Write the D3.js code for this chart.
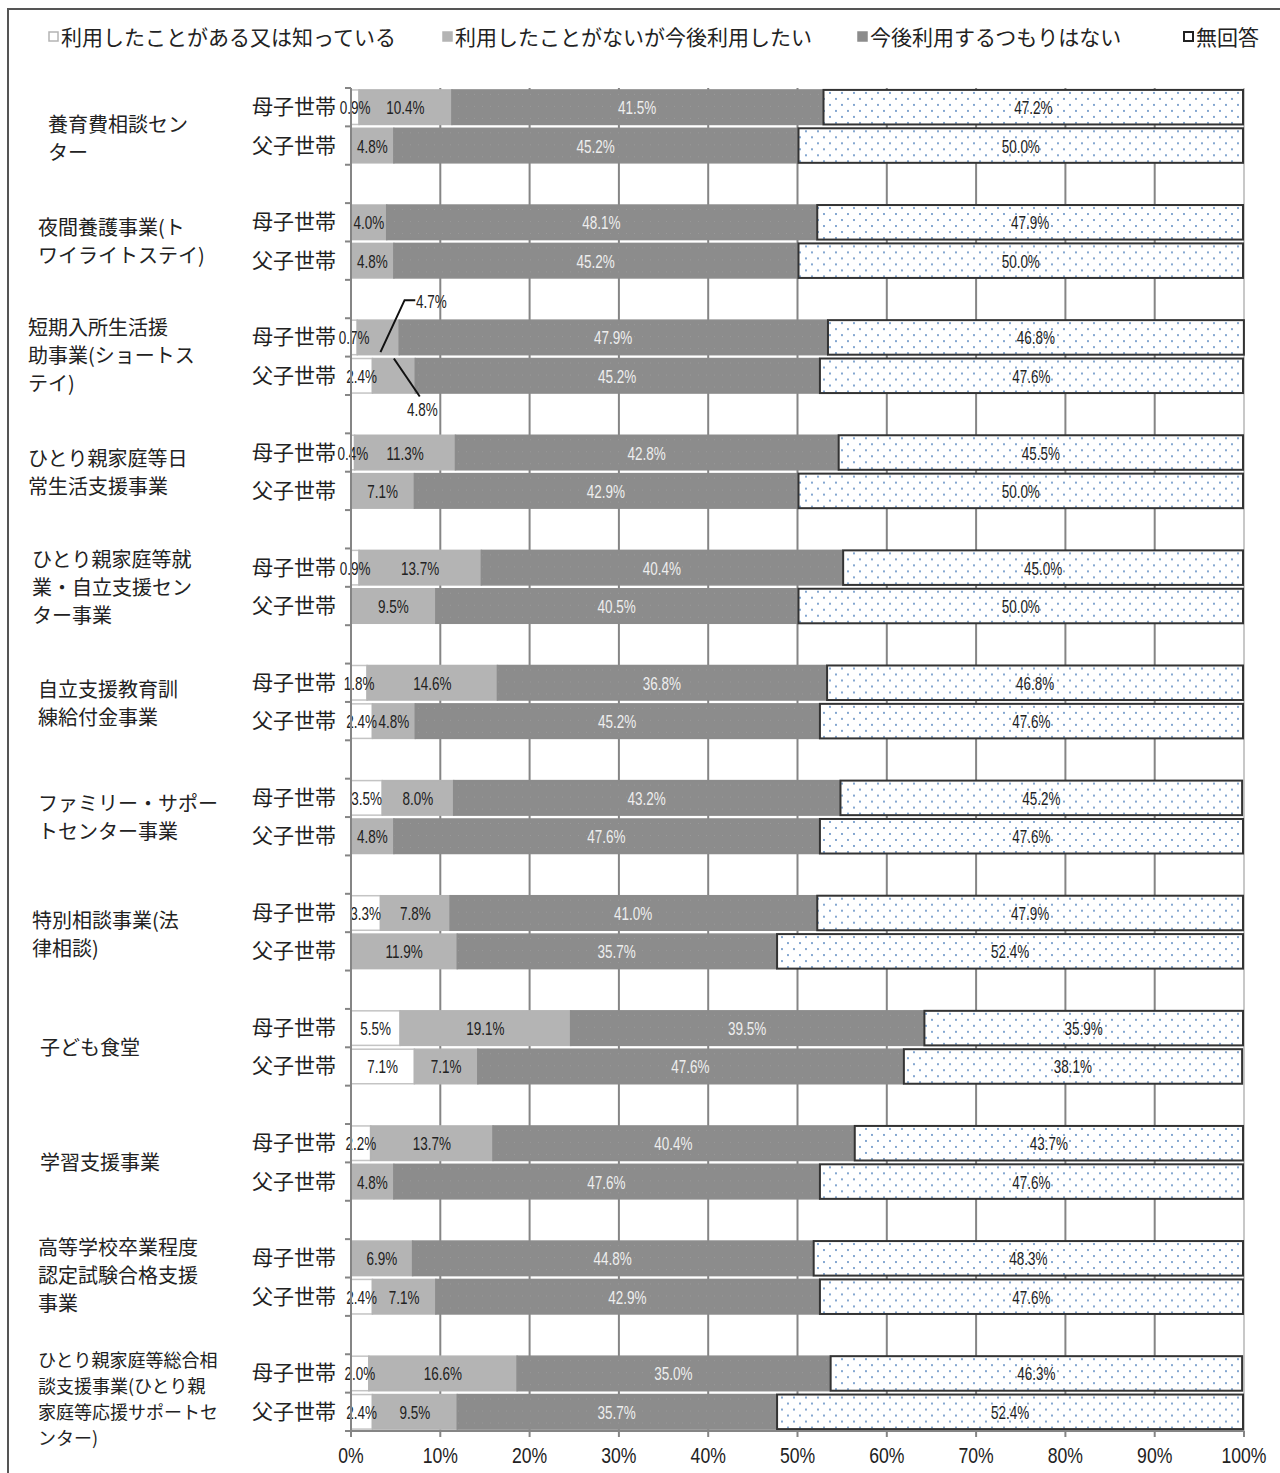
<!DOCTYPE html>
<html>
<head>
<meta charset="utf-8">
<script src="https://cdn.jsdelivr.net/npm/d3@7"></script>
<style>
  body { margin: 0; background: #fff; }
  text { font-family: "Noto Sans CJK JP", sans-serif; }
  .num { font-family: "Liberation Sans", sans-serif; }
</style>
</head>
<body>
<svg id="chart" width="1280" height="1473"></svg>
<script>
const categories = [
    ["養育費相談セン", "ター"],
    ["夜間養護事業(ト", "ワイライトステイ)"],
    ["短期入所生活援", "助事業(ショートス", "テイ)"],
    ["ひとり親家庭等日", "常生活支援事業"],
    ["ひとり親家庭等就", "業・自立支援セン", "ター事業"],
    ["自立支援教育訓", "練給付金事業"],
    ["ファミリー・サポー", "トセンター事業"],
    ["特別相談事業(法", "律相談)"],
    ["子ども食堂"],
    ["学習支援事業"],
    ["高等学校卒業程度", "認定試験合格支援", "事業"],
    ["ひとり親家庭等総合相", "談支援事業(ひとり親", "家庭等応援サポートセ", "ンター)"]
]
const households = ["母子世帯", "父子世帯"]
const seriesNames = ["利用したことがある又は知っている", "利用したことがないが今後利用したい", "今後利用するつもりはない", "無回答"]

// [known, want, notPlanned, noAnswer] per category
const motherValues = [
    [0.9, 10.4, 41.5, 47.2],
    [0, 4.0, 48.1, 47.9],
    [0.7, 4.7, 47.9, 46.8],
    [0.4, 11.3, 42.8, 45.5],
    [0.9, 13.7, 40.4, 45.0],
    [1.8, 14.6, 36.8, 46.8],
    [3.5, 8.0, 43.2, 45.2],
    [3.3, 7.8, 41.0, 47.9],
    [5.5, 19.1, 39.5, 35.9],
    [2.2, 13.7, 40.4, 43.7],
    [0, 6.9, 44.8, 48.3],
    [2.0, 16.6, 35.0, 46.3]
]
const fatherValues = [
    [0, 4.8, 45.2, 50.0],
    [0, 4.8, 45.2, 50.0],
    [2.4, 4.8, 45.2, 47.6],
    [0, 7.1, 42.9, 50.0],
    [0, 9.5, 40.5, 50.0],
    [2.4, 4.8, 45.2, 47.6],
    [0, 4.8, 47.6, 47.6],
    [0, 11.9, 35.7, 52.4],
    [7.1, 7.1, 47.6, 38.1],
    [0, 4.8, 47.6, 47.6],
    [2.4, 7.1, 42.9, 47.6],
    [2.4, 9.5, 35.7, 52.4]
]
const xTicks = [0, 10, 20, 30, 40, 50, 60, 70, 80, 90, 100]
const labelX = [48, 38, 28, 28, 32, 38, 38, 32, 40, 40, 38, 38]
const labelDy = [12, 0, -2, 0, 0, 1, 0, 2, 0, 0, -2, 5]

const svg = d3.select('#chart')

// outer frame
svg.append('rect')
    .attr('x', 8).attr('y', 9)
    .attr('width', 1290).attr('height', 1490)
    .attr('fill', 'none')
    .attr('stroke', '#555')
    .attr('stroke-width', 2)

const defs = svg.append('defs')
const dots = defs.append('pattern')
    .attr('id', 'dots')
    .attr('patternUnits', 'userSpaceOnUse')
    .attr('width', 12).attr('height', 12)
dots.append('rect').attr('width', 12).attr('height', 12).attr('fill', '#fff')
dots.append('circle').attr('cx', 2).attr('cy', 3).attr('r', 0.9).attr('fill', '#4a7ebb')
dots.append('circle').attr('cx', 8).attr('cy', 9).attr('r', 0.9).attr('fill', '#4a7ebb')

const darkDots = defs.append('pattern')
    .attr('id', 'darkDots')
    .attr('patternUnits', 'userSpaceOnUse')
    .attr('width', 8).attr('height', 12)
darkDots.append('rect').attr('width', 8).attr('height', 12).attr('fill', '#8c8c8c')
darkDots.append('rect').attr('x', 2).attr('y', 4).attr('width', 1).attr('height', 1).attr('fill', '#999')

const x = d3.scaleLinear().domain([0, 100]).range([351, 1244])

// 3 slots per category (2 bars + gap), last gap dropped
const slotCount = categories.length * 3 - 1
const y = d3.scaleBand()
    .domain(d3.range(slotCount))
    .range([88, 1431])
    .paddingInner(0.1)
    .paddingOuter(0.05)
const slotStep = y.step()

const fills = ['#ffffff', '#b4b4b4', 'url(#darkDots)', 'url(#dots)']
const strokes = ['#c4c4c4', '#b4b4b4', '#8c8c8c', '#333']
const textColors = ['#222', '#222', '#eeeeee', '#222']

// condensed number label helper
function numLabel(sel, cx, cy) {
    sel.attr('class', 'num')
        .attr('transform', `translate(${cx}, ${cy}) scale(0.75, 1)`)
        .attr('text-anchor', 'middle')
        .style('font-size', '18px')
}

// rows
const rows = []
categories.forEach((c, i) => {
    [motherValues[i], fatherValues[i]].forEach((vals, j) => {
        let acc = 0
        const segs = vals.map((v, k) => {
            const s = { cat: i, hh: j, k: k, v: v, x0: acc, x1: acc + v }
            acc += v
            return s
        })
        rows.push({ cat: i, hh: j, slot: i * 3 + j, segs: segs })
    })
})

// gridlines
const gridTop = 88, gridBottom = 1431
svg.append('g').selectAll('line')
    .data(xTicks.slice(1))
    .join('line')
    .attr('x1', d => x(d)).attr('x2', d => x(d))
    .attr('y1', gridTop).attr('y2', gridBottom)
    .attr('stroke', d => d === 100 ? '#c8c8c8' : '#858585')
    .attr('stroke-width', 2)

// bars
const rowG = svg.append('g').selectAll('g')
    .data(rows)
    .join('g')
    .attr('transform', d => `translate(0, ${y(d.slot)})`)

rowG.selectAll('rect')
    .data(d => d.segs.filter(s => s.v > 0))
    .join('rect')
    .attr('x', s => x(s.x0) + (s.k === 3 ? 1 : 0))
    .attr('width', s => x(s.x1) - x(s.x0) - (s.k === 3 ? 2 : 0))
    .attr('y', 0)
    .attr('height', y.bandwidth())
    .attr('fill', s => fills[s.k])
    .attr('stroke', s => strokes[s.k])
    .attr('stroke-width', s => s.k === 3 ? 2 : 1.5)

// labels (special leader-line labels for category 3)
const isLeader = s => s.cat === 2 && s.k === 1
rowG.selectAll('text.val')
    .data(d => d.segs.filter(s => s.v > 0 && !isLeader(s)))
    .join('text')
    .each(function (s) { numLabel(d3.select(this), x((s.x0 + s.x1) / 2), y.bandwidth() / 2 + 7) })
    .attr('fill', s => textColors[s.k])
    .text(s => s.v.toFixed(1) + '%')

// leader labels
rows.filter(r => r.cat === 2).forEach(r => {
    const s = r.segs[1]
    const top = y(r.slot)
    if (r.hh === 0) {
        svg.append('polyline')
            .attr('points', `${x(3.3)},${top + 32} ${x(6)},${top - 20} ${x(7.2)},${top - 20}`)
            .attr('fill', 'none').attr('stroke', '#111').attr('stroke-width', 2)
        svg.append('text')
            .call(numLabel, x(9), top - 12)
            .attr('fill', '#222')
            .text(s.v.toFixed(1) + '%')
    } else {
        svg.append('line')
            .attr('x1', x(4.8)).attr('y1', top)
            .attr('x2', x(7.7)).attr('y2', top + 38)
            .attr('stroke', '#111').attr('stroke-width', 2)
        svg.append('text')
            .call(numLabel, x(8), top + 57)
            .attr('fill', '#222')
            .text(s.v.toFixed(1) + '%')
    }
})

// y axis
svg.append('line')
    .attr('x1', x(0)).attr('x2', x(0))
    .attr('y1', gridTop).attr('y2', gridBottom + 6)
    .attr('stroke', '#858585').attr('stroke-width', 2)
svg.append('g').selectAll('line')
    .data(d3.range(slotCount + 1))
    .join('line')
    .attr('x1', x(0) - 6).attr('x2', x(0))
    .attr('y1', d => gridTop + d * slotStep).attr('y2', d => gridTop + d * slotStep)
    .attr('stroke', '#858585').attr('stroke-width', 2)

// x axis
svg.append('line')
    .attr('x1', x(0)).attr('x2', x(100))
    .attr('y1', gridBottom).attr('y2', gridBottom)
    .attr('stroke', '#858585').attr('stroke-width', 2)
svg.append('g').selectAll('line')
    .data(xTicks)
    .join('line')
    .attr('x1', d => x(d)).attr('x2', d => x(d))
    .attr('y1', gridBottom).attr('y2', gridBottom + 6)
    .attr('stroke', '#858585').attr('stroke-width', 2)
svg.append('g').selectAll('text')
    .data(xTicks)
    .join('text')
    .attr('class', 'num')
    .attr('transform', d => `translate(${x(d)}, 1463) scale(0.8, 1)`)
    .attr('text-anchor', 'middle')
    .style('font-size', '22px')
    .attr('fill', '#222')
    .text(d => d + '%')

// household labels
rowG.append('text')
    .attr('x', 336)
    .attr('y', y.bandwidth() / 2 + 7)
    .attr('text-anchor', 'end')
    .style('font-size', '21px')
    .attr('fill', '#222')
    .text(d => households[d.hh])

// category labels
categories.forEach((lines, i) => {
    const mid = y(i * 3) + slotStep
    const lh = lines.length > 3 ? 26 : 28
    const start = mid - (lines.length - 1) * lh / 2 + 6 + labelDy[i]
    const t = svg.append('text')
        .style('font-size', lines.length > 3 ? '18px' : '20px')
        .attr('fill', '#222')
    lines.forEach((ln, k) => {
        t.append('tspan')
            .attr('x', labelX[i])
            .attr('y', start + k * lh)
            .text(ln)
    })
})

// legend
const legendX = [48, 442, 857, 1183]
const legendG = svg.append('g').selectAll('g')
    .data(seriesNames)
    .join('g')
    .attr('transform', (d, i) => `translate(${legendX[i]}, 38)`)
legendG.append('rect')
    .attr('x', 1).attr('y', -6)
    .attr('width', 9).attr('height', 9)
    .attr('fill', (d, i) => ['#fff', '#b4b4b4', '#8c8c8c', '#fff'][i])
    .attr('stroke', (d, i) => ['#b4b4b4', '#b4b4b4', '#8c8c8c', '#222'][i])
    .attr('stroke-width', (d, i) => i === 3 ? 2 : 1.5)
legendG.append('text')
    .attr('x', 13)
    .attr('y', 7)
    .style('font-size', '21px')
    .attr('fill', '#222')
    .text(d => d)
</script>
</body>
</html>
